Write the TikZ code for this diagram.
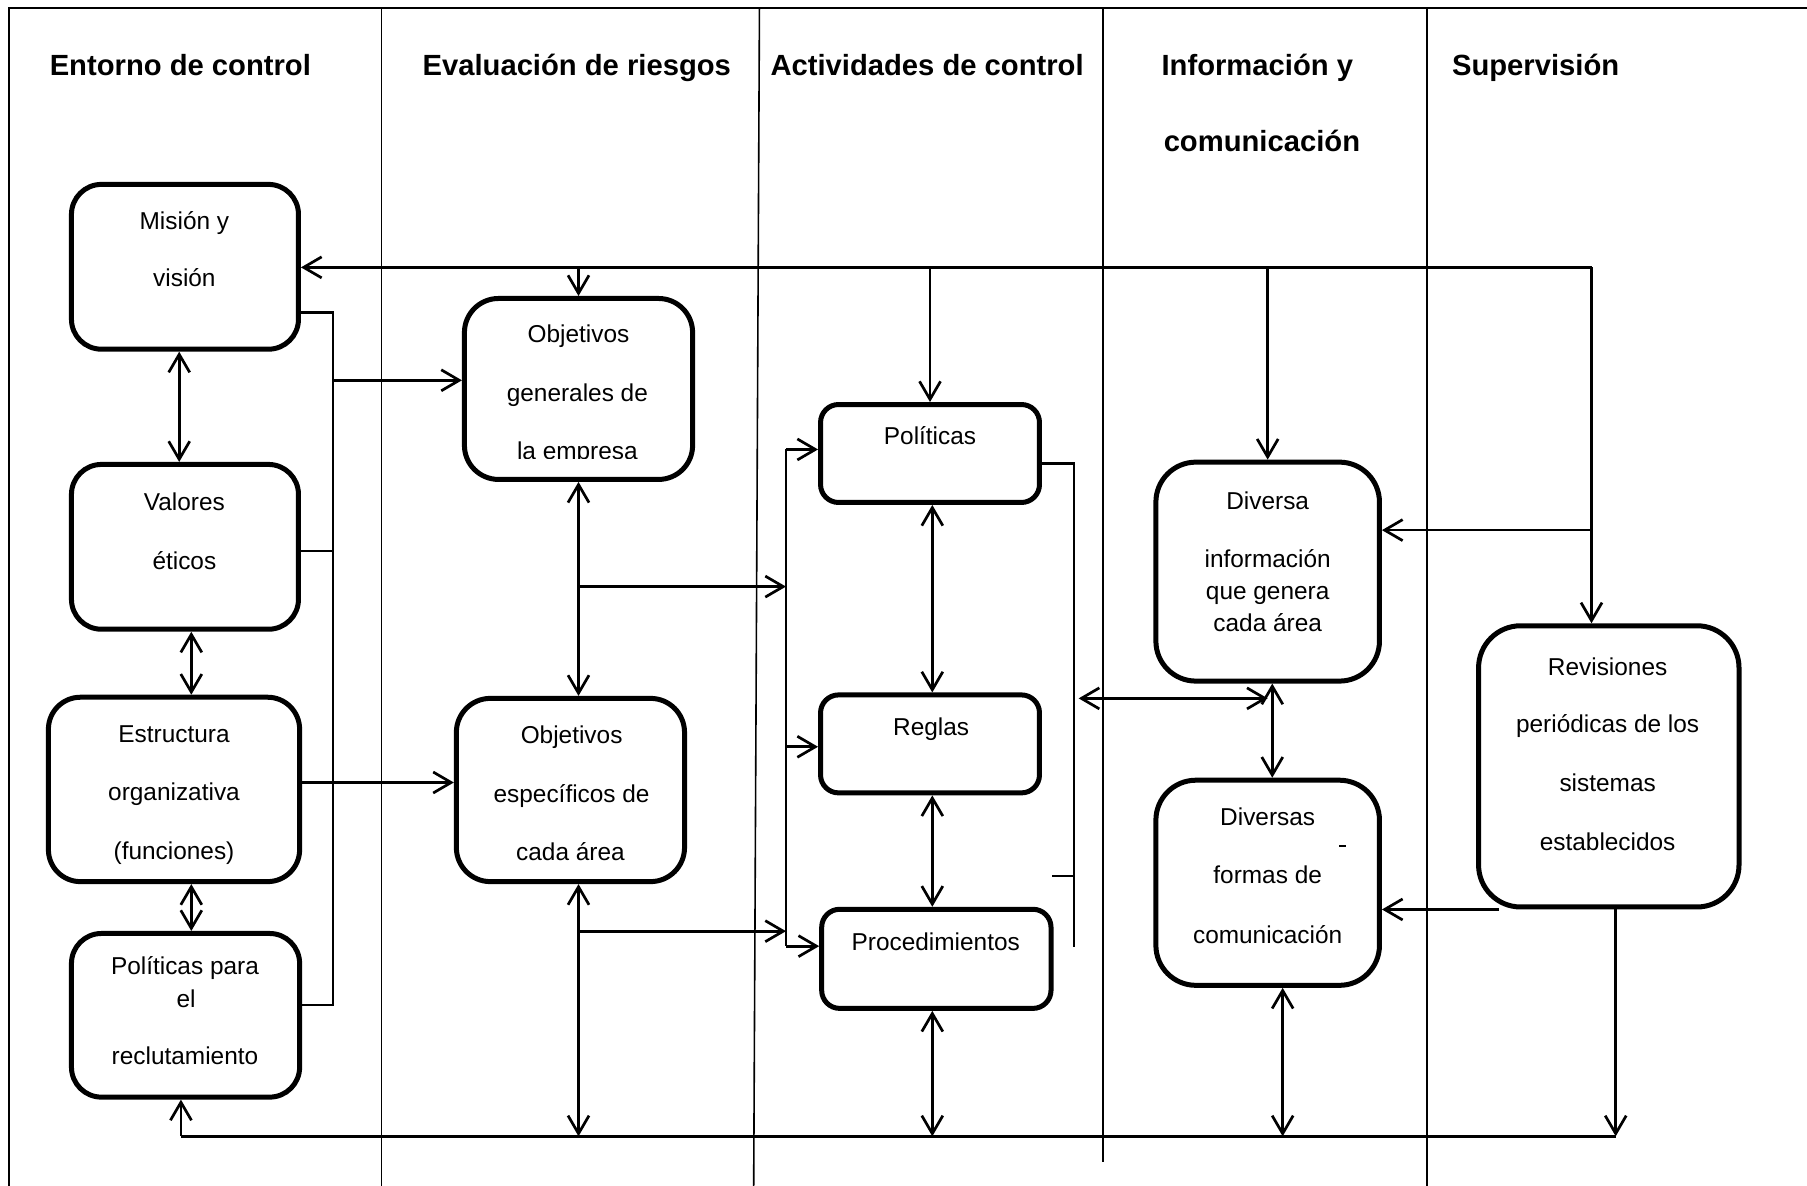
\documentclass[tikz,border=0pt]{standalone}
\usepackage{fontspec}
\setmainfont{Liberation Sans}
\usetikzlibrary{arrows.meta,fit,calc}
\begin{document}
\begin{tikzpicture}[x=0.57621pt,y=-0.57621pt,
  bx/.style={draw, line width=2.5pt, rounded corners=#1, inner sep=0pt},
  conn/.style={line width=1.35pt},
  arr/.style={conn, -{Straight Barb[length=9pt,width=10.5pt]}},
  darr/.style={conn, {Straight Barb[length=9pt,width=10.5pt]}-{Straight Barb[length=9pt,width=10.5pt]}},
  lane/.style={line width=0.8pt},
  hdr/.style={font=\fontsize{14.6}{17}\selectfont\bfseries, anchor=base, inner sep=0pt},
  txt/.style={font=\fontsize{12.2}{14}\selectfont, anchor=base, inner sep=0pt}]
\useasboundingbox (0,0) rectangle (1568,1029);

% swim lanes
\draw[lane] (8,1029) -- (8,7) -- (1568,7);
\draw[lane] (331,7) -- (331,1029);
\draw[lane] (659,7) -- (654,1029);
\draw[lane] (957,7) -- (957,1008);
\draw[lane] (1238,7) -- (1238,1029);

% headers
\node[hdr] (h1) at (156.5,65.5) {Entorno de control};
\node[hdr] (h2) at (500.5,65.5) {Evaluación de riesgos};
\node[hdr] (h3) at (804.5,65.5) {Actividades de control};
\node[hdr] (h4) at (1091,65.5) {Información y};
\node[hdr] (h4b) at (1095,131.5) {comunicación};
\node[hdr] (h5) at (1332.5,65.5) {Supervisión};

% boxes
\node[bx=15pt, fit={(62,160) (259,303)}] (mision) {};
\node[bx=15pt, fit={(62,403) (259,546)}] (valores) {};
\node[bx=16pt, fit={(42,605) (260,765)}] (estr) {};
\node[bx=15pt, fit={(62,810) (260,952)}] (polr) {};
\node[bx=17pt, fit={(403,259) (601,416)}] (objg) {};
\node[bx=17pt, fit={(396,606) (594,765)}] (objesp) {};
\node[bx=9pt, fit={(712,351) (902,436)}] (polit) {};
\node[bx=9pt, fit={(712,603) (902,688)}] (reglas) {};
\node[bx=9pt, fit={(713,789) (912,875)}] (proc) {};
\node[bx=20pt, fit={(1003,401) (1197,591)}] (diversa) {};
\node[bx=20pt, fit={(1003,677) (1197,855)}] (diversas) {};
\node[bx=21pt, fit={(1283,543) (1509,787)}] (rev) {};

% box texts
\node[txt] (m1) at (160,199) {Misión y};
\node[txt] (m2) at (160,249) {visión};
\node[txt] (v1) at (160,443) {Valores};
\node[txt] (v2) at (160,494) {éticos};
\node[txt] (e1) at (151,644) {Estructura};
\node[txt] (e2) at (151,695) {organizativa};
\node[txt] (e3) at (151,746) {(funciones)};
\node[txt] (p1) at (160.5,846) {Políticas para};
\node[txt] (p2) at (161.5,874) {el};
\node[txt] (p3) at (160.5,924) {reclutamiento};
\node[txt] (g1) at (502,297) {Objetivos};
\node[txt] (g2) at (501,348) {generales de};
\begin{scope}
\clip (403,250) rectangle (601,397.5);
\node[txt] (g3) at (501,399) {la empresa};
\end{scope}
\node[txt] (s1) at (496,645) {Objetivos};
\node[txt] (s2) at (496,696) {específicos de};
\node[txt] (s3) at (495,747) {cada área};
\node[txt] (pt) at (807,386) {Políticas};
\node[txt] (rg) at (808,638) {Reglas};
\node[txt] (pc) at (812,825) {Procedimientos};
\node[txt] (d1) at (1100,442) {Diversa};
\node[txt] (d2) at (1100,492) {información};
\node[txt] (d3) at (1100,520) {que genera};
\node[txt] (d4) at (1100,548) {cada área};
\node[txt] (f1) at (1100,716) {Diversas};
\node[txt] (f2) at (1100,767) {formas de};
\node[txt] (f3) at (1100,819) {comunicación};
\node[txt] (r1) at (1395,586) {Revisiones};
\node[txt] (r2) at (1395,636) {periódicas de los};
\node[txt] (r3) at (1395,687) {sistemas};
\node[txt] (r4) at (1395,738) {establecidos};

% coordinates
\coordinate (tb) at (1381,232);
\coordinate (lb1) at (289,271);
\coordinate (lb2) at (289,872);
\coordinate (lbv) at (289,478);
\coordinate (lbo) at (289,330);
\coordinate (xv) at (166,570);
\coordinate (ye) at (330,679);
\coordinate (cb1) at (682,509);
\coordinate (cb2) at (682,808);
\coordinate (cbt) at (682,390);
\coordinate (cbr) at (682,648);
\coordinate (cbb) at (682,821);
\coordinate (bl) at (157,986);
\coordinate (bb) at (1402,986);
\coordinate (pr) at (932,402);
\coordinate (pr2) at (932,822);
\coordinate (tk) at (913,760);
\coordinate (da) at (936,606);
\coordinate (xd) at (1104,630);
\coordinate (xf) at (1113,920);
\coordinate (rv1) at (1381,460);

% top bus
\draw[arr] (tb) -- (mision.east |- tb);
\draw[arr] (objg.north |- tb) -- (objg.north);
\draw[arr] (polit.north |- tb) -- (polit.north);
\draw[arr] (diversa.north |- tb) -- (diversa.north);
\draw[arr] (tb) -- (tb |- rev.north);
\draw[arr] (rv1) -- (diversa.east |- rv1);

% left bus
\draw[conn] (mision.east |- lb1) -- (lb1) -- (lb2) -- (polr.east |- lb2);
\draw[conn] (valores.east |- lbv) -- (lbv);
\draw[arr] (lbo) -- (objg.west |- lbo);

% left column
\draw[darr] ($(mision.south)+(-5,0)$) -- ($(valores.north)+(-5,0)$);
\draw[darr] (valores.south -| xv) -- (estr.north -| xv);
\draw[darr] (estr.south -| xv) -- (polr.north -| xv);
\draw[arr] (estr.east |- ye) -- (objesp.west |- ye);

% risk column
\draw[darr] (objg.south) -- (objg.south |- objesp.north);
\draw[arr] (objg.south |- cb1) -- (cb1);
\draw[arr] (objg.south |- cb2) -- (cb2);
\draw[darr] (objg.south |- objesp.south) -- (objg.south |- bb);

% control activities bus
\draw[conn] (cbt) -- (cbb);
\draw[arr] (cbt) -- (polit.west |- cbt);
\draw[arr] (cbr) -- (reglas.west |- cbr);
\draw[arr] (cbb) -- (proc.west |- cbb);
\draw[darr] ($(polit.south)+(2,0)$) -- ($(reglas.north)+(2,0)$);
\draw[darr] ($(reglas.south)+(2,0)$) -- ($(reglas.south |- proc.north)+(2,0)$);
\draw[darr] ($(reglas.south |- proc.south)+(2,0)$) -- ($(reglas.south |- bb)+(2,0)$);
\draw[conn] (polit.east |- pr) -- (pr) -- (pr2);
\draw[conn] (tk) -- (tk -| pr);

% information column
\draw[darr] (da) -- (diversa.south |- da);
\draw[darr] (diversa.south -| xd) -- (diversas.north -| xd);
\draw[darr] (diversas.south -| xf) -- (xf |- bb);
\draw[arr] ($(rev.south west)+(20,0)$) -- (diversas.east |- rev.south);
\draw[line width=0.8pt] (1162,734) -- (1168,734);

% supervision + bottom bus
\draw[arr] (rev.south -| bb) -- (bb);
\draw[conn] (bb) -- (bl);
\draw[arr] (bl) -- (polr.south -| bl);
\end{tikzpicture}
\end{document}
